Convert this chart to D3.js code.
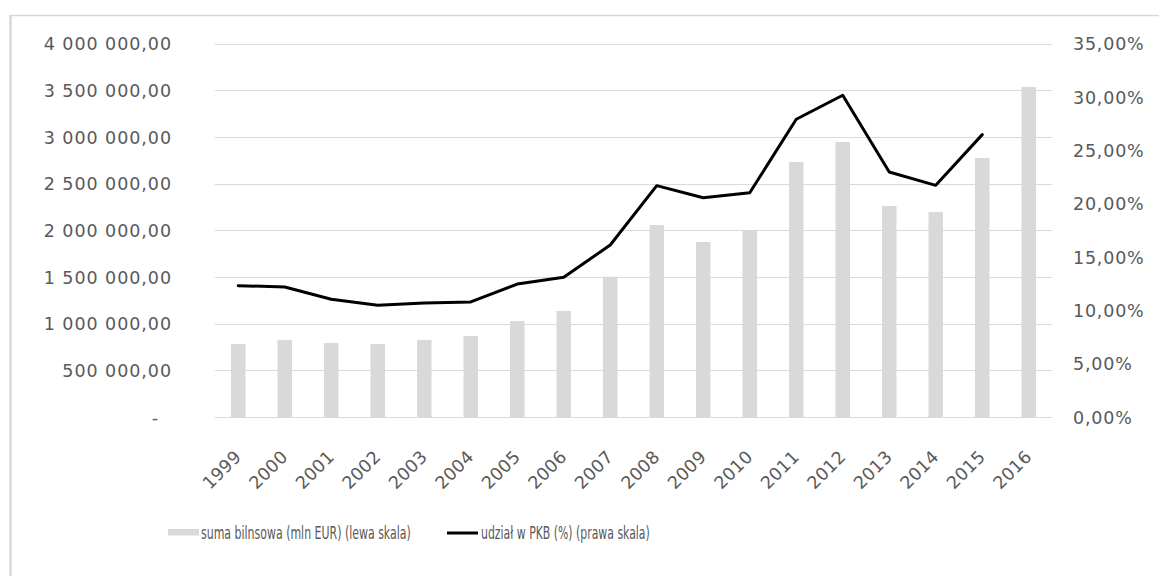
<!DOCTYPE html>
<html>
<head>
<meta charset="utf-8">
<script src="https://cdn.jsdelivr.net/npm/d3@7"></script>
<style>
  html, body { margin: 0; padding: 0; background: #fff; }
  svg { display: block; }
  text { font-family: "DejaVu Sans", sans-serif; fill: #595959; }
</style>
</head>
<body>
<svg id="chart" width="1159" height="576"></svg>
<script>
// Lata
const years = ["1999","2000","2001","2002","2003","2004","2005","2006","2007","2008",
               "2009","2010","2011","2012","2013","2014","2015","2016"];
// Suma bilansowa (mln EUR) – lewa skala
const totalAssets = [782000, 825000, 792000, 782000, 825000, 867000, 1028000, 1135000, 1502000,
                     2056000, 1874000, 1999000, 2731000, 2945000, 2260000, 2195000, 2774000, 3534000];
// Udział w PKB (%) – prawa skala (brak danych za 2016)
const gdpShare = [12.31, 12.18, 11.03, 10.47, 10.68, 10.78, 12.46, 13.09, 16.12,
                  21.68, 20.55, 21.02, 27.90, 30.15, 22.96, 21.71, 26.46, null];
// Podziałki osi
const leftTicks = [0, 500000, 1000000, 1500000, 2000000, 2500000, 3000000, 3500000, 4000000];
const rightTicks = [0, 5, 10, 15, 20, 25, 30, 35];
// Legenda
const legendBar = "suma bilnsowa (mln EUR) (lewa skala)";
const legendLine = "udział w PKB (%) (prawa skala)";

const svg = d3.select("#chart");
const plot = { left: 215, right: 1052, top: 43.5, bottom: 417 };

const pl = d3.formatLocale({ decimal: ",", thousands: " ", grouping: [3], currency: ["", ""] });
const fmtLeft = v => v === 0 ? "-" : pl.format(",.2f")(v);
const fmtRight = v => pl.format(".2f")(v) + "%";

const x = d3.scaleBand().domain(years).range([plot.left, plot.right])
  .paddingInner(0.688).paddingOuter(0.344);
const yL = d3.scaleLinear().domain([0, 4000000]).range([plot.bottom, plot.top]);
const yR = d3.scaleLinear().domain([0, 35]).range([plot.bottom, plot.top]);

// ramka wykresu
svg.append("line").attr("x1", 10).attr("x2", 1159).attr("y1", 15.5).attr("y2", 15.5)
  .attr("stroke", "#d9d9d9").attr("stroke-width", 1.5);
svg.append("line").attr("x1", 10.5).attr("x2", 10.5).attr("y1", 15).attr("y2", 576)
  .attr("stroke", "#d9d9d9").attr("stroke-width", 2.5);

// linie siatki
svg.append("g").selectAll("line").data(leftTicks).join("line")
  .attr("x1", plot.left).attr("x2", plot.right)
  .attr("y1", d => Math.round(yL(d)) + 0.5).attr("y2", d => Math.round(yL(d)) + 0.5)
  .attr("stroke", "#d9d9d9").attr("stroke-width", 1);

// oś lewa
const axL = svg.append("g").attr("transform", `translate(172,0)`)
  .call(d3.axisLeft(yL).tickValues(leftTicks).tickFormat(fmtLeft).tickSize(0).tickPadding(0));
axL.select(".domain").remove();
axL.selectAll("text").attr("font-size", 17.5).attr("letter-spacing", 0.95)
  .attr("font-family", "DejaVu Sans").attr("fill", "#595959")
  .attr("dy", "0.36em")
  .attr("x", d => d === 0 ? -13 : 0);

// oś prawa
const axR = svg.append("g").attr("transform", `translate(1073,0)`)
  .call(d3.axisRight(yR).tickValues(rightTicks).tickFormat(fmtRight).tickSize(0).tickPadding(0));
axR.select(".domain").remove();
axR.selectAll("text").attr("font-size", 17.5).attr("letter-spacing", 0.8)
  .attr("font-family", "DejaVu Sans").attr("fill", "#595959").attr("dy", "0.36em");

// słupki
svg.append("g").selectAll("rect").data(years).join("rect")
  .attr("x", d => x(d)).attr("width", x.bandwidth())
  .attr("y", (d, i) => yL(totalAssets[i]))
  .attr("height", (d, i) => yL(0) - yL(totalAssets[i]))
  .attr("fill", "#d9d9d9");

// linia udziału w PKB
const line = d3.line()
  .defined(d => d.v != null)
  .x(d => x(d.year) + x.bandwidth() / 2)
  .y(d => yR(d.v));
svg.append("path")
  .datum(years.map((year, i) => ({ year, v: gdpShare[i] })))
  .attr("d", line).attr("fill", "none").attr("stroke", "#000")
  .attr("stroke-width", 3).attr("stroke-linejoin", "round").attr("stroke-linecap", "round");

// etykiety osi X
svg.append("g").selectAll("text").data(years).join("text")
  .attr("transform", d => `translate(${x(d) + x.bandwidth() / 2 + 4},458) rotate(-45)`)
  .attr("text-anchor", "end")
  .attr("font-size", 17.5).attr("letter-spacing", 0.3)
  .text(d => d);

// legenda – tekst zwężony poziomo do zadanej szerokości
function narrowText(g, x0, y0, str, width) {
  const t = g.append("text").attr("font-size", 18).text(str);
  const natural = t.node().getComputedTextLength();
  t.attr("transform", `translate(${x0},${y0}) scale(${width / natural},1)`);
}
const lg = svg.append("g");
lg.append("rect").attr("x", 168).attr("y", 529).attr("width", 31).attr("height", 6.5).attr("fill", "#d9d9d9");
narrowText(lg, 201, 539, legendBar, 210);
lg.append("line").attr("x1", 447).attr("x2", 478).attr("y1", 533).attr("y2", 533)
  .attr("stroke", "#000").attr("stroke-width", 3);
narrowText(lg, 481, 539, legendLine, 169);
</script>
</body>
</html>
